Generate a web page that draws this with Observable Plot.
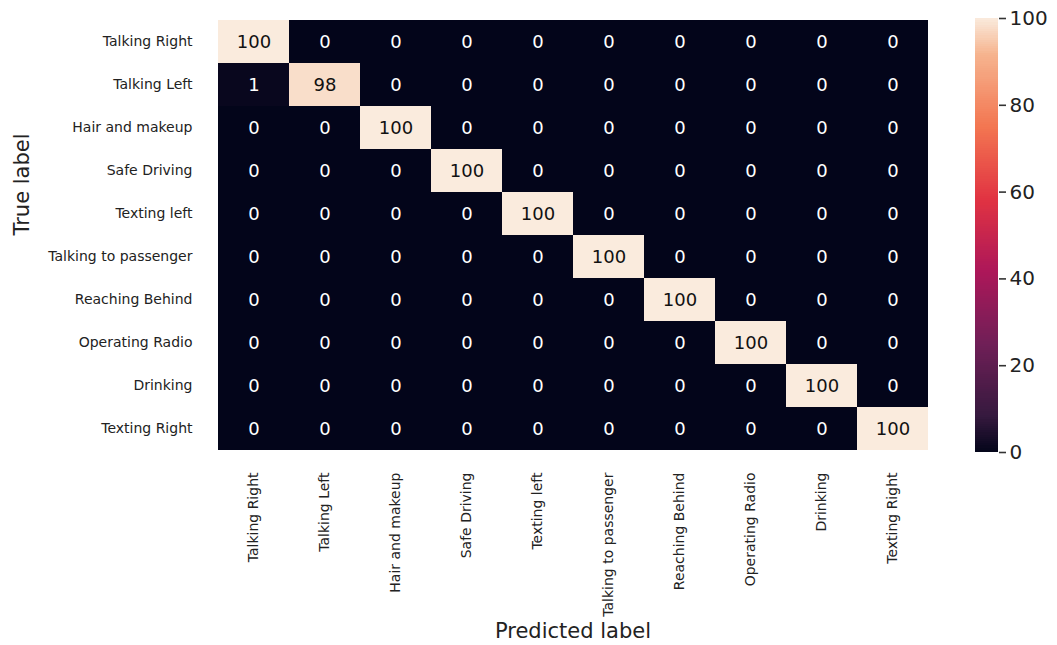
<!DOCTYPE html>
<html>
<head>
<meta charset="utf-8">
<script src="https://cdn.jsdelivr.net/npm/d3@7"></script>
<script src="https://cdn.jsdelivr.net/npm/@observablehq/plot@0.6"></script>
<style>
  html, body { margin: 0; padding: 0; background: #fff; }
  #wrap { position: relative; width: 1057px; height: 645px; overflow: hidden; font-family: "DejaVu Sans", sans-serif; }
  #wrap > svg { position: absolute; top: 0; }
</style>
</head>
<body>
<div id="wrap"></div>
<script>
// Class labels (true = rows, predicted = columns)
const labels = [
  "Talking Right", "Talking Left", "Hair and makeup", "Safe Driving", "Texting left",
  "Talking to passenger", "Reaching Behind", "Operating Radio", "Drinking", "Texting Right"
];
// Confusion matrix values, one row per true label
const row0 = [100, 0, 0, 0, 0, 0, 0, 0, 0, 0];
const row1 = [1, 98, 0, 0, 0, 0, 0, 0, 0, 0];
const row2 = [0, 0, 100, 0, 0, 0, 0, 0, 0, 0];
const row3 = [0, 0, 0, 100, 0, 0, 0, 0, 0, 0];
const row4 = [0, 0, 0, 0, 100, 0, 0, 0, 0, 0];
const row5 = [0, 0, 0, 0, 0, 100, 0, 0, 0, 0];
const row6 = [0, 0, 0, 0, 0, 0, 100, 0, 0, 0];
const row7 = [0, 0, 0, 0, 0, 0, 0, 100, 0, 0];
const row8 = [0, 0, 0, 0, 0, 0, 0, 0, 100, 0];
const row9 = [0, 0, 0, 0, 0, 0, 0, 0, 0, 100];
const matrix = [row0, row1, row2, row3, row4, row5, row6, row7, row8, row9];
// Colour bar ticks
const colorTicks = [0, 20, 40, 60, 80, 100];

// Rocket-like colormap
const rocketPos = [0, 0.083, 0.25, 0.417, 0.583, 0.75, 0.917, 1];
const rocketCol = ["#03051a", "#35193e", "#701f57", "#ad1759", "#e13342", "#f37651", "#f6b48f", "#faebdd"];
const rocketScale = d3.scaleLinear().domain(rocketPos).range(rocketCol).interpolate(d3.interpolateRgb).clamp(true);
const rocket = t => rocketScale(t);
const colorOpts = {type: "linear", domain: [0, 100], interpolate: rocket};

const cells = [];
matrix.forEach((row, i) => row.forEach((v, j) => cells.push({truth: labels[i], pred: labels[j], value: v})));

const main = Plot.plot({
  width: 960,
  height: 645,
  marginLeft: 215,
  marginRight: 30,
  marginTop: 18,
  marginBottom: 193,
  style: {fontFamily: "DejaVu Sans, sans-serif", fontSize: "14px", color: "#222", background: "transparent"},
  x: {domain: labels, padding: 0, label: null, tickSize: 0, tickPadding: 20, tickRotate: -90},
  y: {domain: labels, padding: 0, label: null, tickSize: 0, tickPadding: 23},
  color: colorOpts,
  marks: [
    Plot.cell(cells, {x: "pred", y: "truth", fill: "value", inset: 0}),
    Plot.text(cells, {x: "pred", y: "truth", text: d => String(d.value), fontSize: 18,
      fill: d => d.value > 50 ? "#111" : "#fff"}),
    Plot.text(["True label"], {frameAnchor: "left", dx: -193, rotate: -90, fontSize: 21, fill: "#222"}),
    Plot.text(["Predicted label"], {frameAnchor: "bottom", dy: 185, fontSize: 21, fill: "#222"})
  ]
});
main.style.left = "0px";

// Colour bar
const ramp = d3.range(0, 100, 0.5);
const bar = Plot.plot({
  width: 92,
  height: 645,
  marginLeft: 10,
  marginRight: 59,
  marginTop: 18,
  marginBottom: 193,
  style: {fontFamily: "DejaVu Sans, sans-serif", fontSize: "20px", color: "#222", background: "transparent"},
  x: {domain: [0, 1], axis: null},
  y: {domain: [0, 100], axis: "right", ticks: colorTicks, tickFormat: d => String(d), tickSize: 7, tickPadding: 4, label: null},
  color: colorOpts,
  marks: [
    Plot.rect(ramp, {x1: 0, x2: 1, y1: d => d, y2: d => Math.min(100, d + 0.7), fill: d => d + 0.25, shapeRendering: "crispEdges"})
  ]
});
bar.style.left = "965px";

const wrap = document.getElementById("wrap");
wrap.appendChild(main);
wrap.appendChild(bar);
// thicker colour-bar tick marks
d3.select(bar).selectAll("[aria-label='y-axis tick'] path").attr("stroke-width", 1.6).attr("stroke", "#333");
</script>
</body>
</html>
